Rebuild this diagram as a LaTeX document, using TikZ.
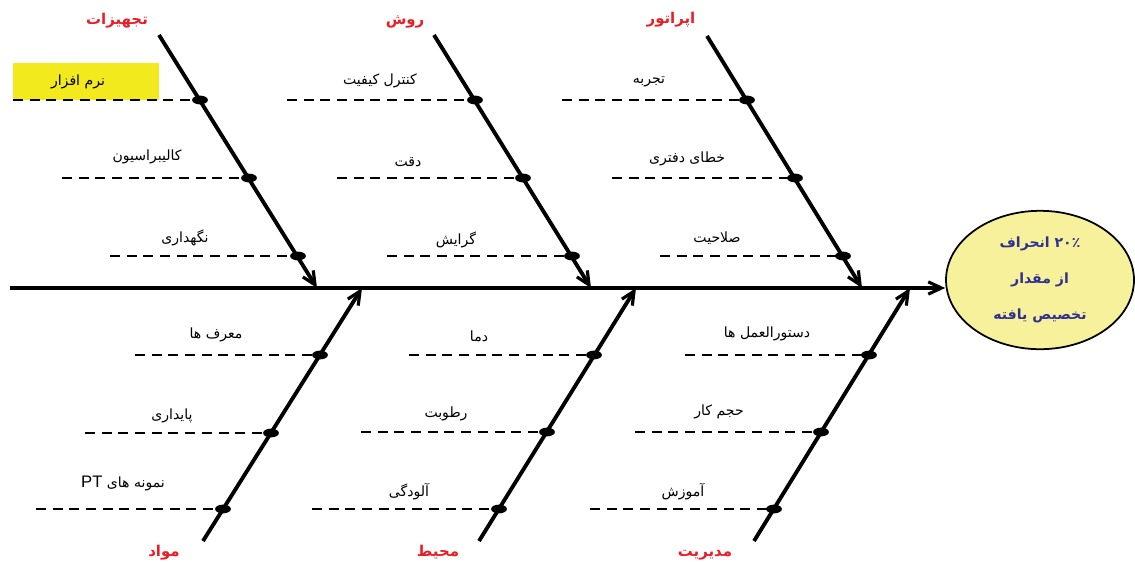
\documentclass[tikz,border=0pt]{standalone}
\usepackage{fontspec}
\usepackage{tikz}
\usetikzlibrary{arrows.meta, shapes.geometric}
\TeXXeTstate=1
\newfontfamily\fa[Script=Arabic]{DejaVu Sans}
\newfontfamily\lat{Liberation Sans}
\newcommand{\fatxt}[1]{\beginR #1\endR}
\definecolor{catred}{HTML}{EC1C24}
\definecolor{effblue}{HTML}{2E3192}
\definecolor{effyellow}{HTML}{F7F19B}
\definecolor{boxyellow}{HTML}{F2EA1C}

\begin{document}
\begin{tikzpicture}[x=0.02cm, y=-0.02cm,
  bone/.style={line width=2.2pt, -{Straight Barb[length=7.5pt,width=7pt,line width=1.8pt]}},
  sub/.style={line width=1.5pt, dash pattern=on 5.7pt off 3.8pt},
  knot/.style={ellipse, fill=black, minimum width=9pt, minimum height=5pt, inner sep=0pt},
  cause/.style={font=\fontsize{8}{9}\selectfont\fa, inner sep=1pt},
  cat/.style={text=catred, font=\fontsize{8.5}{10}\selectfont\fa\bfseries, inner sep=1pt}]
\useasboundingbox (0,0) rectangle (1135,561);

% effect
\node[ellipse, draw, line width=1pt, fill=effyellow, minimum width=3.76cm, minimum height=2.6cm,
  text=effblue, align=center, font=\fontsize{8}{20.5}\selectfont\fa\bfseries] (goal) at (1040,280)
  {\fatxt{\beginL ۲۰٪\endL{} انحراف}\\\fatxt{از مقدار}\\\fatxt{تخصیص یافته}};

% spine
\coordinate (tail) at (10,288);
\draw[bone] (tail) -- (tail -| goal.west);

% categories
\node[cat] (equip) at (117,21) {\fatxt{تجهیزات}};
\node[cat] (method) at (405,22) {\fatxt{روش}};
\node[cat] (operator) at (671,20) {\fatxt{اپراتور}};
\node[cat] (material) at (164,553) {\fatxt{مواد}};
\node[cat] (environ) at (438,552) {\fatxt{محیط}};
\node[cat] (manage) at (705,555) {\fatxt{مدیریت}};

% bones
\coordinate (b1) at (159,35);  \coordinate (j1) at (317,288);
\coordinate (b2) at (434,35);  \coordinate (j2) at (591,288);
\coordinate (b3) at (707,36);  \coordinate (j3) at (862,288);
\coordinate (b4) at (203,541); \coordinate (j4) at (362,288);
\coordinate (b5) at (479,541); \coordinate (j5) at (636,288);
\coordinate (b6) at (754,541); \coordinate (j6) at (910,288);
\foreach \i in {1,...,6}
  \draw[bone] (b\i) -- (j\i);

% highlighted box
\fill[boxyellow] (13,63) rectangle (159,100);

% sub-causes: dashed branches
\coordinate (s11) at (13,100);  \coordinate (s12) at (62,178);  \coordinate (s13) at (110,256);
\coordinate (s21) at (287,100); \coordinate (s22) at (337,178); \coordinate (s23) at (387,256);
\coordinate (s31) at (562,100); \coordinate (s32) at (612,178); \coordinate (s33) at (660,256);
\coordinate (s41) at (135,355); \coordinate (s42) at (85,433);  \coordinate (s43) at (36,509);
\coordinate (s51) at (409,355); \coordinate (s52) at (361,432); \coordinate (s53) at (312,509);
\coordinate (s61) at (685,355); \coordinate (s62) at (635,432); \coordinate (s63) at (590,509);

\node[knot] (k11) at (200,100) {};
\node[knot] (k12) at (249,178) {};
\node[knot] (k13) at (298,256) {};
\node[knot] (k21) at (475,100) {};
\node[knot] (k22) at (523,178) {};
\node[knot] (k23) at (572,256) {};
\node[knot] (k31) at (747,100) {};
\node[knot] (k32) at (795,178) {};
\node[knot] (k33) at (843,256) {};
\node[knot] (k41) at (320,355) {};
\node[knot] (k42) at (271,433) {};
\node[knot] (k43) at (223,509) {};
\node[knot] (k51) at (594,355) {};
\node[knot] (k52) at (547,432) {};
\node[knot] (k53) at (499,509) {};
\node[knot] (k61) at (869,355) {};
\node[knot] (k62) at (821,432) {};
\node[knot] (k63) at (774,509) {};

\foreach \i in {1,...,6}
  \foreach \j in {1,2,3}
    \draw[sub] (s\i\j) -- (k\i\j.center);

% labels
\node[cause] (software) at (78,82) {\fatxt{نرم افزار}};
\node[cause] (calib) at (147,157) {\fatxt{کالیبراسیون}};
\node[cause] (maint) at (185,238) {\fatxt{نگهداری}};
\node[cause] (qc) at (380,81) {\fatxt{کنترل کیفیت}};
\node[cause] (accuracy) at (408,162) {\fatxt{دقت}};
\node[cause] (tendency) at (456,240) {\fatxt{گرایش}};
\node[cause] (experience) at (649,82) {\fatxt{تجربه}};
\node[cause] (clerical) at (687,159) {\fatxt{خطای دفتری}};
\node[cause] (competence) at (717,238) {\fatxt{صلاحیت}};
\node[cause] (identifiers) at (216,335) {\fatxt{معرف ها}};
\node[cause] (stability) at (172,416) {\fatxt{پایداری}};
\node[cause] (samples) at (123,483) {\fatxt{نمونه های \beginL{\lat\fontsize{9.5}{11}\selectfont PT}\endL}};
\node[cause] (temp) at (479,336) {\fatxt{دما}};
\node[cause] (humidity) at (446,414) {\fatxt{رطوبت}};
\node[cause] (pollution) at (409,492) {\fatxt{آلودگی}};
\node[cause] (instructions) at (767,334) {\fatxt{دستورالعمل ها}};
\node[cause] (workload) at (719,412) {\fatxt{حجم کار}};
\node[cause] (training) at (683,492) {\fatxt{آموزش}};
\end{tikzpicture}
\end{document}
